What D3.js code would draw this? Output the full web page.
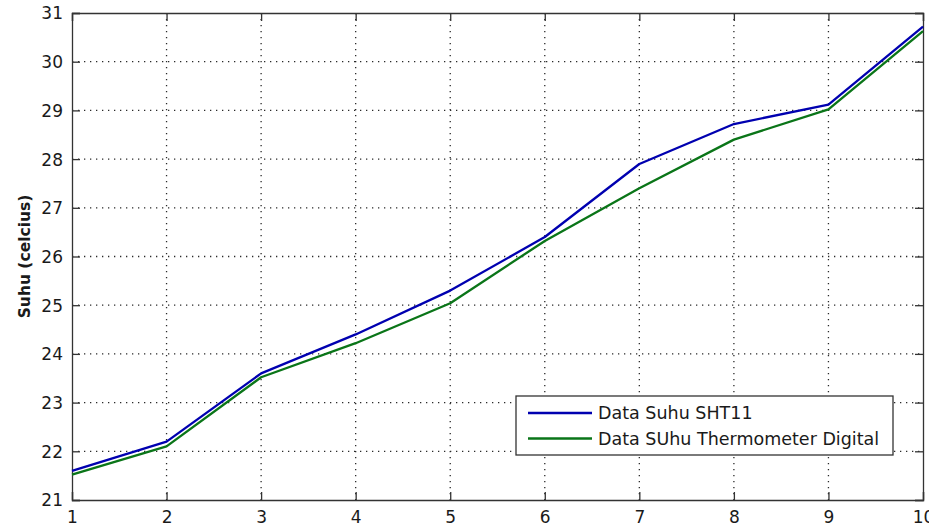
<!DOCTYPE html>
<html>
<head>
<meta charset="utf-8">
<script src="https://cdn.jsdelivr.net/npm/d3@7"></script>
<style>
  html, body { margin: 0; padding: 0; background: #fff; }
  svg { display: block; }
  text { font-family: "DejaVu Sans", sans-serif; fill: #1a1a1a; }
</style>
</head>
<body>
<svg id="chart" width="929" height="529"></svg>
<script>
// Measurement index (sample number)
const samples = [1, 2, 3, 4, 5, 6, 7, 8, 9, 10];
// Temperature readings, degrees Celsius
const sht11 = [21.6, 22.2, 23.6, 24.4, 25.3, 26.4, 27.9, 28.72, 29.12, 30.72];
const thermoDigital = [21.52, 22.1, 23.52, 24.22, 25.04, 26.32, 27.4, 28.4, 29.02, 30.63];
const xTicks = [1, 2, 3, 4, 5, 6, 7, 8, 9, 10];
const yTicks = [21, 22, 23, 24, 25, 26, 27, 28, 29, 30, 31];
const seriesNames = ["Data Suhu SHT11", "Data SUhu Thermometer Digital"];
const seriesColors = ["#0000b0", "#0a7518"];
const yLabel = "Suhu (celcius)";

const svg = d3.select("#chart");
const margin = { left: 72, top: 13, right: 6, bottom: 29 };
const W = 929, H = 529;
const x = d3.scaleLinear().domain([1, 10]).range([margin.left, W - margin.right]);
const y = d3.scaleLinear().domain([21, 31]).range([H - margin.bottom, margin.top]);

const gridColor = "#2a2a2a";
const grid = svg.append("g");
// vertical dotted grid lines
grid.selectAll("line.vx").data(xTicks.slice(1, -1)).join("line")
  .attr("x1", d => x(d)).attr("x2", d => x(d))
  .attr("y1", y(31)).attr("y2", y(21))
  .attr("stroke", gridColor).attr("stroke-width", 1.3)
  .attr("stroke-dasharray", "1.3,4.7");
// horizontal dotted grid lines
grid.selectAll("line.hy").data(yTicks.slice(1, -1)).join("line")
  .attr("y1", d => y(d)).attr("y2", d => y(d))
  .attr("x1", x(1)).attr("x2", x(10))
  .attr("stroke", gridColor).attr("stroke-width", 1.3)
  .attr("stroke-dasharray", "1.3,4.7");

// Axes: ticks point inward on all four sides
const tickLen = 8;
const axisColor = "#333";
const axBottom = svg.append("g").attr("transform", `translate(0,${y(21)})`)
  .call(d3.axisBottom(x).tickValues(xTicks).tickSize(-tickLen).tickPadding(16).tickFormat(d3.format("d")));
const axTop = svg.append("g").attr("transform", `translate(0,${y(31)})`)
  .call(d3.axisTop(x).tickValues(xTicks).tickSize(-tickLen).tickFormat(""));
const axLeft = svg.append("g").attr("transform", `translate(${x(1)},0)`)
  .call(d3.axisLeft(y).tickValues(yTicks).tickSize(-tickLen).tickPadding(9).tickFormat(d3.format("d")));
const axRight = svg.append("g").attr("transform", `translate(${x(10)},0)`)
  .call(d3.axisRight(y).tickValues(yTicks).tickSize(-tickLen).tickFormat(""));
[axBottom, axTop, axLeft, axRight].forEach(g => {
  g.select(".domain").attr("stroke", axisColor).attr("stroke-width", 1.3);
  g.selectAll(".tick line").attr("stroke", axisColor).attr("stroke-width", 1.3);
  g.selectAll(".tick text").attr("font-size", 17).attr("font-family", "DejaVu Sans").attr("fill", "#1a1a1a");
});
axBottom.selectAll(".tick text").attr("dy", "0.4em");
axLeft.selectAll(".tick text").attr("dy", "0.35em");

// Y axis title
svg.append("text")
  .attr("transform", `translate(30,${(y(21) + y(31)) / 2}) rotate(-90)`)
  .attr("text-anchor", "middle")
  .attr("font-size", 15.5).attr("font-weight", "bold")
  .text(yLabel);

// Data lines
const line = d3.line().x((d, i) => x(samples[i])).y(d => y(d));
[sht11, thermoDigital].forEach((vals, k) => {
  svg.append("path").datum(vals)
    .attr("fill", "none")
    .attr("stroke", seriesColors[k])
    .attr("stroke-width", 2.3)
    .attr("stroke-linejoin", "round")
    .attr("d", line);
});

// Legend
const lg = svg.append("g").attr("transform", "translate(516,396)");
lg.append("rect").attr("width", 377).attr("height", 59)
  .attr("fill", "#fff").attr("stroke", "#333").attr("stroke-width", 1.3);
seriesNames.forEach((name, k) => {
  const cy = 17 + k * 25.5;
  lg.append("line").attr("x1", 12).attr("x2", 76).attr("y1", cy).attr("y2", cy)
    .attr("stroke", seriesColors[k]).attr("stroke-width", 2.3);
  lg.append("text").attr("x", 82).attr("y", cy).attr("dy", "0.36em")
    .attr("font-size", 17.5).text(name);
});
</script>
</body>
</html>
